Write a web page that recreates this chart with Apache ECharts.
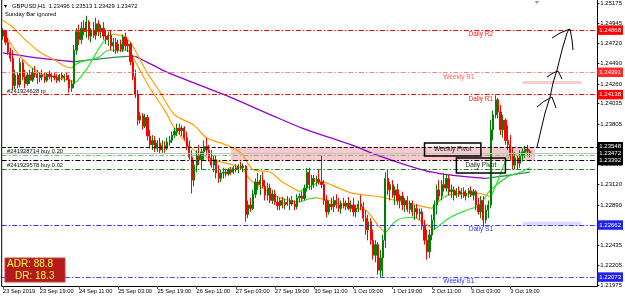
<!DOCTYPE html>
<html><head><meta charset="utf-8">
<script src="https://cdn.jsdelivr.net/npm/echarts@6/dist/echarts.min.js"></script>
<style>html,body{margin:0;padding:0;background:#fff}#c{width:625px;height:302px}</style>
</head><body><div id="c"></div>
<script>
const FONT = '"Liberation Sans", Arial, sans-serif';

// ---------- DATA ----------
// hourly OHLC [open, high, low, close], GBPUSD H1, 23 Sep 2019 04:00 -> 4 Oct 2019 03:00
const ohlc = [
[1.2480,1.2489,1.2476,1.2486],[1.2486,1.2487,1.2470,1.2473],[1.2473,1.2478,1.2459,1.2462],[1.2462,1.2467,1.2451,1.2455],
[1.2455,1.2464,1.2419,1.2424],[1.2424,1.2442,1.2420,1.2436],[1.2436,1.2439,1.2421,1.2425],[1.2425,1.2455,1.2422,1.2450],
[1.2450,1.2453,1.2430,1.2434],[1.2434,1.2442,1.2421,1.2426],[1.2426,1.2439,1.2424,1.2436],[1.2436,1.2442,1.2426,1.2430],
[1.2430,1.2444,1.2428,1.2439],[1.2439,1.2446,1.2433,1.2437],[1.2437,1.2442,1.2426,1.2433],[1.2433,1.2439,1.2428,1.2436],
[1.2436,1.2442,1.2430,1.2434],[1.2434,1.2439,1.2427,1.2430],[1.2430,1.2439,1.2428,1.2437],[1.2437,1.2441,1.2431,1.2434],
[1.2434,1.2438,1.2428,1.2435],[1.2435,1.2439,1.2430,1.2433],[1.2433,1.2437,1.2427,1.2430],[1.2430,1.2437,1.2428,1.2436],
[1.2436,1.2439,1.2430,1.2433],[1.2433,1.2437,1.2428,1.2435],[1.2435,1.2439,1.2430,1.2431],[1.2431,1.2436,1.2416,1.2421],
[1.2421,1.2430,1.2417,1.2426],[1.2426,1.2470,1.2421,1.2464],[1.2464,1.2489,1.2459,1.2485],[1.2485,1.2493,1.2470,1.2476],
[1.2476,1.2496,1.2471,1.2489],[1.2489,1.2498,1.2481,1.2485],[1.2485,1.2503,1.2478,1.2496],[1.2496,1.2498,1.2476,1.2480],
[1.2480,1.2489,1.2473,1.2487],[1.2487,1.2496,1.2478,1.2481],[1.2481,1.2501,1.2476,1.2494],[1.2494,1.2498,1.2480,1.2485],
[1.2485,1.2493,1.2478,1.2489],[1.2489,1.2496,1.2476,1.2480],[1.2480,1.2487,1.2471,1.2476],[1.2476,1.2485,1.2469,1.2481],
[1.2481,1.2487,1.2464,1.2469],[1.2469,1.2478,1.2462,1.2473],[1.2473,1.2478,1.2460,1.2464],[1.2464,1.2476,1.2461,1.2471],
[1.2471,1.2476,1.2462,1.2465],[1.2465,1.2482,1.2462,1.2479],[1.2479,1.2484,1.2464,1.2469],[1.2469,1.2476,1.2462,1.2471],
[1.2471,1.2473,1.2447,1.2451],[1.2451,1.2459,1.2430,1.2434],[1.2434,1.2442,1.2410,1.2414],[1.2414,1.2419,1.2379,1.2385],
[1.2385,1.2394,1.2381,1.2390],[1.2390,1.2393,1.2374,1.2378],[1.2378,1.2392,1.2376,1.2388],[1.2388,1.2391,1.2362,1.2367],
[1.2367,1.2374,1.2353,1.2357],[1.2357,1.2368,1.2351,1.2362],[1.2362,1.2367,1.2349,1.2353],[1.2353,1.2362,1.2349,1.2359],
[1.2359,1.2365,1.2347,1.2351],[1.2351,1.2362,1.2348,1.2356],[1.2356,1.2361,1.2348,1.2353],[1.2353,1.2365,1.2351,1.2360],
[1.2360,1.2367,1.2356,1.2362],[1.2362,1.2372,1.2359,1.2368],[1.2368,1.2376,1.2365,1.2372],[1.2372,1.2381,1.2367,1.2376],
[1.2376,1.2381,1.2369,1.2373],[1.2373,1.2379,1.2367,1.2376],[1.2376,1.2378,1.2362,1.2365],[1.2365,1.2372,1.2351,1.2355],
[1.2355,1.2362,1.2340,1.2343],[1.2343,1.2351,1.2302,1.2317],[1.2317,1.2340,1.2310,1.2334],[1.2334,1.2351,1.2326,1.2345],
[1.2345,1.2357,1.2334,1.2340],[1.2340,1.2353,1.2329,1.2349],[1.2349,1.2362,1.2340,1.2355],[1.2355,1.2365,1.2345,1.2351],
[1.2351,1.2357,1.2338,1.2342],[1.2342,1.2351,1.2331,1.2334],[1.2334,1.2345,1.2326,1.2340],[1.2340,1.2345,1.2319,1.2325],
[1.2325,1.2334,1.2314,1.2319],[1.2319,1.2329,1.2315,1.2325],[1.2325,1.2331,1.2319,1.2326],[1.2326,1.2330,1.2321,1.2324],
[1.2324,1.2331,1.2322,1.2329],[1.2329,1.2332,1.2323,1.2326],[1.2326,1.2333,1.2324,1.2331],[1.2331,1.2335,1.2326,1.2329],
[1.2329,1.2335,1.2325,1.2333],[1.2333,1.2338,1.2329,1.2331],[1.2331,1.2336,1.2326,1.2333],[1.2333,1.2334,1.2270,1.2278],
[1.2278,1.2294,1.2274,1.2289],[1.2289,1.2297,1.2281,1.2285],[1.2285,1.2306,1.2283,1.2301],[1.2301,1.2319,1.2297,1.2315],
[1.2315,1.2325,1.2306,1.2312],[1.2312,1.2323,1.2300,1.2317],[1.2317,1.2326,1.2308,1.2310],[1.2310,1.2317,1.2294,1.2300],
[1.2300,1.2314,1.2294,1.2308],[1.2308,1.2313,1.2291,1.2294],[1.2294,1.2306,1.2290,1.2301],[1.2301,1.2306,1.2289,1.2292],
[1.2292,1.2299,1.2283,1.2288],[1.2288,1.2297,1.2283,1.2294],[1.2294,1.2298,1.2285,1.2289],[1.2289,1.2296,1.2284,1.2292],
[1.2292,1.2299,1.2288,1.2290],[1.2290,1.2297,1.2283,1.2294],[1.2294,1.2299,1.2288,1.2290],[1.2290,1.2294,1.2283,1.2287],
[1.2287,1.2301,1.2284,1.2297],[1.2297,1.2302,1.2292,1.2299],[1.2299,1.2304,1.2293,1.2296],[1.2296,1.2312,1.2294,1.2308],
[1.2308,1.2331,1.2304,1.2326],[1.2326,1.2331,1.2306,1.2312],[1.2312,1.2323,1.2306,1.2319],[1.2319,1.2323,1.2308,1.2315],
[1.2315,1.2322,1.2310,1.2318],[1.2318,1.2329,1.2312,1.2315],[1.2315,1.2345,1.2308,1.2312],[1.2312,1.2317,1.2289,1.2294],
[1.2294,1.2300,1.2275,1.2281],[1.2281,1.2294,1.2278,1.2290],[1.2290,1.2297,1.2283,1.2287],[1.2287,1.2299,1.2281,1.2294],
[1.2294,1.2301,1.2285,1.2289],[1.2289,1.2297,1.2281,1.2285],[1.2285,1.2294,1.2279,1.2291],[1.2291,1.2297,1.2285,1.2288],
[1.2288,1.2294,1.2283,1.2291],[1.2291,1.2298,1.2283,1.2285],[1.2285,1.2294,1.2281,1.2289],[1.2289,1.2297,1.2276,1.2281],
[1.2281,1.2289,1.2275,1.2285],[1.2285,1.2294,1.2281,1.2290],[1.2290,1.2300,1.2283,1.2287],[1.2287,1.2292,1.2270,1.2274],
[1.2274,1.2283,1.2255,1.2261],[1.2261,1.2278,1.2249,1.2270],[1.2270,1.2274,1.2244,1.2249],[1.2249,1.2261,1.2227,1.2232],
[1.2232,1.2249,1.2224,1.2244],[1.2244,1.2247,1.2210,1.2215],[1.2215,1.2238,1.2206,1.2229],[1.2229,1.2255,1.2208,1.2249],
[1.2249,1.2326,1.2240,1.2319],[1.2319,1.2329,1.2300,1.2306],[1.2306,1.2315,1.2294,1.2312],[1.2312,1.2317,1.2297,1.2300],
[1.2300,1.2310,1.2289,1.2306],[1.2306,1.2313,1.2289,1.2294],[1.2294,1.2301,1.2285,1.2299],[1.2299,1.2304,1.2283,1.2289],
[1.2289,1.2297,1.2281,1.2294],[1.2294,1.2299,1.2281,1.2284],[1.2284,1.2294,1.2279,1.2291],[1.2291,1.2294,1.2276,1.2281],
[1.2281,1.2289,1.2272,1.2285],[1.2285,1.2290,1.2274,1.2279],[1.2279,1.2285,1.2272,1.2281],[1.2281,1.2285,1.2261,1.2265],
[1.2265,1.2272,1.2244,1.2249],[1.2249,1.2261,1.2227,1.2236],[1.2236,1.2261,1.2229,1.2255],[1.2255,1.2278,1.2249,1.2272],
[1.2272,1.2294,1.2261,1.2289],[1.2289,1.2312,1.2278,1.2306],[1.2306,1.2317,1.2294,1.2299],[1.2299,1.2317,1.2294,1.2312],
[1.2312,1.2325,1.2304,1.2308],[1.2308,1.2324,1.2304,1.2319],[1.2319,1.2323,1.2300,1.2304],[1.2304,1.2312,1.2297,1.2306],
[1.2306,1.2310,1.2294,1.2300],[1.2300,1.2308,1.2297,1.2305],[1.2305,1.2310,1.2298,1.2301],[1.2301,1.2308,1.2296,1.2304],
[1.2304,1.2309,1.2297,1.2299],[1.2299,1.2306,1.2294,1.2302],[1.2302,1.2308,1.2297,1.2305],[1.2305,1.2310,1.2298,1.2300],
[1.2300,1.2307,1.2294,1.2304],[1.2304,1.2306,1.2283,1.2289],[1.2289,1.2297,1.2278,1.2281],[1.2281,1.2299,1.2274,1.2294],
[1.2294,1.2299,1.2264,1.2272],[1.2272,1.2289,1.2268,1.2283],[1.2283,1.2294,1.2274,1.2289],[1.2289,1.2385,1.2285,1.2374],
[1.2374,1.2396,1.2362,1.2391],[1.2391,1.2413,1.2387,1.2408],[1.2408,1.2410,1.2387,1.2394],[1.2394,1.2402,1.2368,1.2374],
[1.2374,1.2391,1.2365,1.2385],[1.2385,1.2387,1.2357,1.2362],[1.2362,1.2379,1.2351,1.2357],[1.2357,1.2368,1.2340,1.2345],
[1.2345,1.2353,1.2329,1.2334],[1.2334,1.2349,1.2329,1.2342],[1.2342,1.2345,1.2329,1.2336],[1.2336,1.2351,1.2331,1.2345],
[1.2345,1.2353,1.2338,1.2349],[1.2349,1.2356,1.2342,1.2352],[1.2352,1.2357,1.2344,1.2350],[1.23496,1.23513,1.23429,1.23472]
];

// moving averages: [barIndex, price] vertices, split by slope colour
const maFastFalling = [
 [[0,1.2487],[4,1.2468],[9,1.2451],[15,1.2438],[21,1.2434],[27,1.2430],[30,1.2428]],
 [[45,1.2482],[49,1.2480],[52,1.2473],[59,1.2438],[64,1.2417],[70,1.2391],[78,1.2379],[83,1.2365],[91,1.2357],[97,1.2348],[102,1.2329],[109,1.2326],[114,1.2315],[121,1.2304]],
 [[129,1.2315],[132,1.2314],[137,1.2308],[143,1.2302],[154,1.2298],[160,1.2294],[168,1.2289],[175,1.2285]],
 [[186,1.2302],[194,1.2302],[199,1.2298]],
 [[207,1.2345],[210,1.2347]]
];
const maFastRising = [
 [[30,1.2428],[34,1.2442],[37,1.2456],[40,1.2470],[43,1.2480],[45,1.2482]],
 [[121,1.2304],[124,1.2308],[129,1.2315]],
 [[175,1.2285],[180,1.2298],[186,1.2302]],
 [[199,1.2298],[202,1.2317],[205,1.2338],[207,1.2345]],
 [[210,1.2347],[215,1.2349]]
];
const maSlowFalling = [
 [[0,1.2498],[4,1.2490],[9,1.2476],[15,1.2462],[21,1.2453],[26,1.2445],[28,1.2444]],
 [[51,1.2464],[54,1.2451],[60,1.2421],[66,1.2396],[70,1.2376],[78,1.2351],[86,1.2340],[97,1.2331],[101,1.2317],[107,1.2306],[113,1.2297],[121,1.2292]],
 [[128,1.2297],[133,1.2294],[143,1.2285],[148,1.2283],[153,1.2266],[156,1.2257]],
 [[168,1.2275],[176,1.2261]]
];
const maSlowRising = [
 [[28,1.2444],[31,1.2450],[35,1.2453],[39,1.2456],[43,1.2464],[47,1.2464],[51,1.2464]],
 [[121,1.2292],[125,1.2296],[128,1.2297]],
 [[156,1.2257],[161,1.2272],[168,1.2275]],
 [[176,1.2261],[182,1.2274],[189,1.2283],[194,1.2288],[199,1.2306],[206,1.2321],[211,1.2326],[215,1.2331]]
];
const maLongFalling = [
 [[0,1.2461],[15,1.2455],[29,1.2451]],
 [[54,1.2457],[57,1.2453],[62,1.2446],[67,1.2439],[90,1.2414],[110,1.2390],[122,1.2376],[143,1.2356],[154,1.2344],[175,1.2326],[197,1.2319]]
];
const maLongRising = [
 [[29,1.2451],[39,1.2454],[51,1.2457],[54,1.2457]],
 [[197,1.2319],[205,1.2322],[215,1.2326]]
];

// horizontal levels
const levelNames  = ['Daily R2','Weekly R1','Daily R1','Weekly Pivot','Bid','Order 0.20','Daily Pivot','Order 0.02','Daily S1','Weekly S1'];
const levelValues = [1.24868, 1.24391, 1.24138, 1.23548, 1.23472, 1.23454, 1.23392, 1.2329, 1.22662, 1.22073];

// y axis tick labels
const yTicks = [1.25175,1.24945,1.24720,1.24490,1.24260,1.24035,1.23805,1.23575,1.23350,1.23120,1.22890,1.22660,1.22435,1.22205,1.21975];
// x axis tick labels (category values that get a label)
const xTicks = ['23 Sep 04:00','23 Sep 19:00','24 Sep 11:00','25 Sep 03:00','25 Sep 19:00','26 Sep 11:00','27 Sep 03:00','27 Sep 19:00','30 Sep 11:00','1 Oct 03:00','1 Oct 19:00','2 Oct 11:00','3 Oct 03:00','3 Oct 19:00'];
const firstTickText = '23 Sep 2019';

// time categories (hourly, weekends skipped), incl. empty chart-shift area
const MONTHS = ['Jan','Feb','Mar','Apr','May','Jun','Jul','Aug','Sep','Oct','Nov','Dec'];
const SLOTS = 243;
const categories = [];
{
  let t = Date.UTC(2019, 8, 23, 4);
  while (categories.length < SLOTS) {
    const d = new Date(t), wd = d.getUTCDay();
    if (wd !== 0 && wd !== 6) categories.push(d.getUTCDate() + ' ' + MONTHS[d.getUTCMonth()] + ' ' + String(d.getUTCHours()).padStart(2, '0') + ':00');
    t += 3600000;
  }
}

// ---------- STYLES ----------
const levelStyle = {
  'Daily R2':    {c:'#ff0000', tag:'#ff0000', txt:'#ff2020'},
  'Weekly R1':   {c:'#ff8080', tag:'#ff2a2a', txt:'#ff6060'},
  'Daily R1':    {c:'#ff0000', tag:'#ff0000', txt:'#ff2020'},
  'Weekly Pivot':{c:'#000000', tag:'#000000', dash:[4,2]},
  'Bid':         {c:'#c0c0c0', tag:'#000000', solid:true},
  'Order 0.20':  {c:'#70c070'},
  'Daily Pivot': {c:'#000000', tag:'#000000'},
  'Order 0.02':  {c:'#118811'},
  'Daily S1':    {c:'#3434ff', tag:'#2222ee', txt:'#3030ff'},
  'Weekly S1':   {c:'#4848ff', tag:'#2222ee', txt:'#3030ff'}
};
const DASHDOT = [5, 2, 1.5, 2];

const chart = echarts.init(document.getElementById('c'), null, {renderer: 'canvas'});

function segSeries(segs, color, width, z) {
  return segs.map(s => ({
    type: 'line', data: s, symbol: 'none', smooth: 0.3, silent: true, z: z,
    lineStyle: {color: color, width: width}
  }));
}

const markLines = levelNames.map((n, i) => {
  const st = levelStyle[n];
  return {
    yAxis: levelValues[i],
    lineStyle: {color: st.c, width: 1, type: st.solid ? 'solid' : (st.dash || DASHDOT)},
    label: st.tag ? {
      show: true, position: 'end', distance: 0, formatter: levelValues[i].toFixed(5),
      backgroundColor: st.tag, color: '#ffffff', fontFamily: FONT, fontSize: 6,
      padding: [1.5, 2, 1, 2], lineHeight: 7
    } : {show: false}
  };
});

const option = {
  animation: false,
  backgroundColor: '#ffffff',
  grid: {left: 1.7, right: 25.5, top: 0, bottom: 16, containLabel: false},
  xAxis: {
    type: 'category', data: categories, boundaryGap: true,
    axisLine: {show: true, lineStyle: {color: '#000', width: 1}},
    axisTick: {show: true, alignWithLabel: true, length: 3, lineStyle: {color: '#555'},
      interval: (i, v) => xTicks.includes(v)},
    axisLabel: {show: true, interval: (i, v) => xTicks.includes(v), align: 'left', margin: 2.5,
      fontFamily: FONT, fontSize: 5.7, color: '#000',
      formatter: (v, i) => (i === 0 ? firstTickText : v)},
    splitLine: {show: false}
  },
  yAxis: {
    type: 'value', position: 'right', min: 1.21972, max: 1.25209, scale: true,
    axisLine: {show: true, lineStyle: {color: '#000', width: 1}},
    axisTick: {show: true, length: 2, customValues: yTicks, lineStyle: {color: '#000'}},
    axisLabel: {show: true, customValues: yTicks, margin: 3, fontFamily: FONT, fontSize: 6, color: '#000',
      formatter: v => Number(v).toFixed(5)},
    splitLine: {show: false}
  },
  series: [
    { // zones and horizontal levels (below the candles)
      type: 'line', data: [], z: 1, silent: true,
      markArea: {silent: true, precision: 5, itemStyle: {color: 'rgba(250,190,200,0.85)'},
        data: [
          [{coord: [93, levelValues[3]], itemStyle: {color: 'rgba(250,190,200,0.85)'}}, {coord: [217, levelValues[6]]}],
          [{coord: [212, 1.24292], itemStyle: {color: 'rgba(250,200,205,0.9)'}}, {coord: [236, 1.24258]}],
          [{coord: [212, 1.22700], itemStyle: {color: 'rgba(215,215,255,0.9)'}}, {coord: [236, 1.22655]}]
        ]},
      markLine: {silent: true, precision: 5, symbol: ['none', 'none'], animation: false, data: markLines}
    },
    ...segSeries(maLongFalling, '#9400d3', 1.3, 2),
    ...segSeries(maLongRising, '#2e8b57', 1.3, 2),
    ...segSeries(maSlowFalling, '#ffa000', 1.2, 2),
    ...segSeries(maSlowRising, '#33dd33', 1.2, 2),
    ...segSeries(maFastFalling, '#ffa000', 1.2, 2),
    ...segSeries(maFastRising, '#22ee22', 1.2, 2),
    {
      type: 'candlestick', z: 3, silent: true, barWidth: 1.7,
      data: ohlc.map(r => [r[0], r[3], r[2], r[1]]),
      itemStyle: {color: '#008000', color0: '#ff0000', borderColor: '#008000', borderColor0: '#ff0000', borderWidth: 1}
    }
  ]
};
chart.setOption(option);

// ---------- ANNOTATIONS (anchored through the chart's own scales) ----------
const px = (i, p) => chart.convertToPixel({xAxisIndex: 0, yAxisIndex: 0}, [i, p]);
const gfx = [];
// level names
const levelTexts = [['Daily R2', 195], ['Weekly R1', 186], ['Daily R1', 195], ['Daily S1', 195], ['Weekly S1', 186]];
levelTexts.forEach(([n, idx]) => {
  const p = px(idx, levelValues[levelNames.indexOf(n)]);
  gfx.push({type: 'text', x: p[0], y: p[1] + 4.5, z: 20,
    style: {text: n, fill: levelStyle[n].txt, font: '6.5px ' + FONT, align: 'center', verticalAlign: 'middle'}});
});
// pivot boxes
const pivotBoxes = [['Weekly Pivot', 172.4, 194.7, 1.2359, 1.23443], ['Daily Pivot', 184.6, 204.5, 1.2342, 1.23251]];
pivotBoxes.forEach(([t, a, b, p0, p1]) => {
  const A = px(a, p0), B = px(b, p1);
  gfx.push({type: 'rect', z: 20, shape: {x: A[0], y: A[1], width: B[0] - A[0], height: B[1] - A[1]},
    style: {fill: 'none', stroke: '#000', lineWidth: 1.5}});
  gfx.push({type: 'text', z: 21, x: (A[0] + B[0]) / 2, y: (A[1] + B[1]) / 2,
    style: {text: t, fill: '#222', font: '6.5px ' + FONT, align: 'center', verticalAlign: 'middle'}});
});
// order labels at the left, just above their lines
const orderTexts = [['#241924628 tp', 1.2418], ['#241928714 buy 0.20', 1.2349], ['#241929578 buy 0.02', 1.2334]];
orderTexts.forEach(([t, p]) => {
  const q = px(0, p);
  gfx.push({type: 'text', z: 21, x: 7, y: q[1],
    style: {text: t, fill: '#111', font: '5.8px ' + FONT, align: 'left', verticalAlign: 'middle'}});
});
// left frame
gfx.push({type: 'line', z: 30, shape: {x1: 1.7, y1: 0, x2: 1.7, y2: 286}, style: {stroke: '#000', lineWidth: 1}});
// header text
gfx.push({type: 'text', z: 30, x: 4, y: 6, style: {text: '\u25BE', fill: '#000', font: '6px ' + FONT, verticalAlign: 'middle'}});
gfx.push({type: 'text', z: 30, x: 12, y: 6, style: {text: 'GBPUSD,H1  1.23496 1.23513 1.23429 1.23472', fill: '#000', font: '5.8px ' + FONT, verticalAlign: 'middle'}});
gfx.push({type: 'text', z: 30, x: 5, y: 14.5, style: {text: 'Sunday Bar ignored', fill: '#000', font: '5.8px ' + FONT, verticalAlign: 'middle'}});
// chart shift marker
gfx.push({type: 'polygon', z: 30, shape: {points: [[534.5, 1], [539.5, 1], [537, 4]]}, style: {fill: '#a0a0a0'}});
// ADR panel
gfx.push({type: 'rect', z: 40, shape: {x: 5, y: 258, width: 60, height: 24}, style: {fill: '#b31b1b', stroke: '#c84040', lineWidth: 1}});
gfx.push({type: 'text', z: 41, x: 7, y: 264.5, style: {text: 'ADR: 88.8', fill: '#ffff30', font: '10px ' + FONT, verticalAlign: 'middle'}});
gfx.push({type: 'text', z: 41, x: 15, y: 276, style: {text: 'DR: 18.3', fill: '#ffff30', font: '10px ' + FONT, verticalAlign: 'middle'}});
// hand-drawn arrows
const strokes = [
  [[537,147],[541,130],[545,113],[550,97],[553,83],[557,70],[562,50],[567,33],[569,29]],
  [[537,107],[543,102],[552,97],[556,108]],
  [[547,77],[553,73],[558,71],[562,79]],
  [[552,38],[560,33],[570,29],[572,40],[573,50]]
];
strokes.forEach(pts => gfx.push({type: 'polyline', z: 35, shape: {points: pts}, style: {stroke: '#000', lineWidth: 1, fill: 'none'}}));

chart.setOption({graphic: gfx});
</script>
</body></html>
